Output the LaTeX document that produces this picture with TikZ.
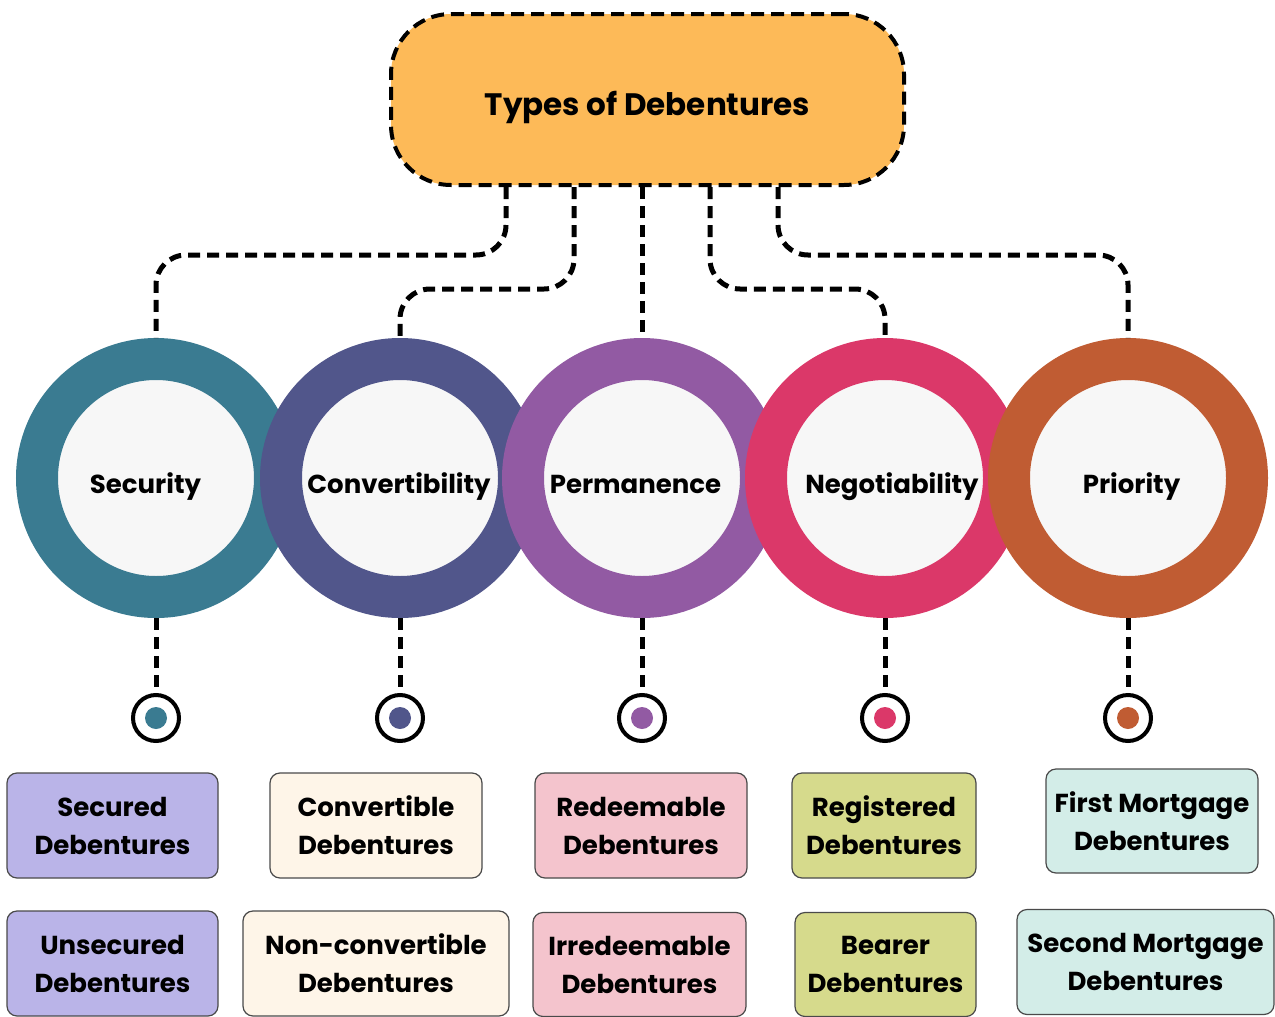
\documentclass[tikz,border=0pt]{standalone}
\usepackage{fontspec}
\setmainfont{Poppins}
\definecolor{titlefill}{HTML}{FDBA58}
\definecolor{cA}{HTML}{3A7B91}
\definecolor{cB}{HTML}{51568B}
\definecolor{cC}{HTML}{925AA3}
\definecolor{cD}{HTML}{DB3869}
\definecolor{cE}{HTML}{C05C33}
\definecolor{innerfill}{HTML}{F7F7F7}
\definecolor{bxA}{HTML}{BAB4E8}
\definecolor{bxB}{HTML}{FEF5E8}
\definecolor{bxC}{HTML}{F4C4CD}
\definecolor{bxD}{HTML}{D6DA8C}
\definecolor{bxE}{HTML}{D3EDE8}
\definecolor{boxline}{HTML}{4A4A4A}
\begin{document}
\begin{tikzpicture}[x=1pt,y=-1pt,
  conn/.style={line width=5pt, dash pattern=on 12pt off 7pt, black},
  ring/.style={circle, line width=42pt, draw=#1, fill=innerfill, minimum size=238pt, outer sep=21pt, inner sep=0pt},
  lbl/.style={font=\fontsize{26}{30}\selectfont\bfseries, anchor=base, inner sep=0pt},
  marker/.style={circle, draw=black, line width=4pt, fill=white, minimum size=46pt, inner sep=0pt, outer sep=2pt},
  bx/.style n args={3}{draw=boxline, line width=1.2pt, rounded corners=10pt, fill=#1, align=center, inner sep=0pt,
     minimum width=#2, minimum height=#3, font=\fontsize{26}{38}\selectfont\bfseries}
]
\fill[white] (0,0) rectangle (1275,1017);
\useasboundingbox (0,0) rectangle (1275,1017);

% title
\node[draw=black, line width=4pt, dash pattern=on 13pt off 7pt, fill=titlefill, rounded corners=60pt,
      minimum width=513pt, minimum height=171pt, inner sep=0pt, text height=31pt, text depth=0pt,
      font=\fontsize{31}{36}\selectfont\bfseries] (title) at (647.5,99.5) {Types of Debentures};

% circles
\node[ring=cA] (c1) at (156,478) {};
\node[ring=cB] (c2) at (400,478) {};
\node[ring=cC] (c3) at (642,478) {};
\node[ring=cD] (c4) at (885,478) {};
\node[ring=cE] (c5) at (1128,478) {};

\node[lbl] (l1) at (145.5,493) {Security};
\node[lbl] (l2) at (399,493) {Convertibility};
\node[lbl] (l3) at (635.5,493) {Permanence};
\node[lbl] (l4) at (892,493) {Negotiability};
\node[lbl] (l5) at (1131.5,493) {Priority};

% connectors from title
\coordinate (t1) at ([xshift=-141.5pt]title.south);
\coordinate (t2) at ([xshift=-73.5pt]title.south);
\coordinate (t3) at ([xshift=-5.5pt]title.south);
\coordinate (t4) at ([xshift=62.5pt]title.south);
\coordinate (t5) at ([xshift=130.5pt]title.south);
\coordinate (h1) at (156,255);
\coordinate (h2) at (400,289);
\coordinate (h4) at (885,289);
\coordinate (h5) at (1128,255);
\draw[conn, rounded corners=30pt] (t1) |- (h1) -- (c1.north);
\draw[conn, rounded corners=30pt] (t2) |- (h2) -- (c2.north);
\draw[conn] (t3) -- (c3.north);
\draw[conn, rounded corners=30pt] (t4) |- (h4) -- (c4.north);
\draw[conn, rounded corners=30pt] (t5) |- (h5) -- (c5.north);

% markers
\node[marker] (m1) at (156,718) {};
\node[marker] (m2) at (400,718) {};
\node[marker] (m3) at (642,718) {};
\node[marker] (m4) at (885,718) {};
\node[marker] (m5) at (1128,718) {};
\fill[cA] (m1.center) circle (11);
\fill[cB] (m2.center) circle (11);
\fill[cC] (m3.center) circle (11);
\fill[cD] (m4.center) circle (11);
\fill[cE] (m5.center) circle (11);
\draw[conn] (c1.south) -- (m1.north);
\draw[conn] (c2.south) -- (m2.north);
\draw[conn] (c3.south) -- (m3.north);
\draw[conn] (c4.south) -- (m4.north);
\draw[conn] (c5.south) -- (m5.north);

% boxes
\node[bx={bxA}{211pt}{105pt}] (b1a) at (112.5,825.5) {Secured\\Debentures};
\node[bx={bxB}{212pt}{105pt}] (b2a) at (376,825.5) {Convertible\\Debentures};
\node[bx={bxC}{212pt}{105pt}] (b3a) at (641,825.5) {Redeemable\\Debentures};
\node[bx={bxD}{184pt}{105pt}] (b4a) at (884,825.5) {Registered\\Debentures};
\node[bx={bxE}{212pt}{104pt}] (b5a) at (1152,821) {First Mortgage\\Debentures};
\node[bx={bxA}{211pt}{105pt}] (b1b) at (112.5,963.5) {Unsecured\\Debentures};
\node[bx={bxB}{266pt}{105pt}] (b2b) at (376,963.5) {Non-convertible\\Debentures};
\node[bx={bxC}{213pt}{104pt}] (b3b) at (639.5,964.5) {Irredeemable\\Debentures};
\node[bx={bxD}{181pt}{104pt}] (b4b) at (885.5,964.5) {Bearer\\Debentures};
\node[bx={bxE}{257pt}{105pt}] (b5b) at (1145.5,962) {Second Mortgage\\Debentures};
\end{tikzpicture}
\end{document}
